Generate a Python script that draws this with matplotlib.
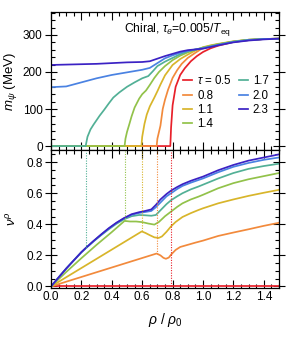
import numpy as np
import matplotlib
matplotlib.use("Agg")
import matplotlib.pyplot as plt
from matplotlib.ticker import MultipleLocator

plt.rcParams['font.family'] = ['Liberation Sans', 'DejaVu Sans']
plt.rcParams['mathtext.fontset'] = 'custom'
plt.rcParams['mathtext.rm'] = 'Liberation Sans'
plt.rcParams['mathtext.it'] = 'Liberation Sans:italic'
plt.rcParams['mathtext.bf'] = 'Liberation Sans:bold'

# ---------------- data ----------------
taus = ["0.5", "0.8", "1.1", "1.4", "1.7", "2.0", "2.3"]
colors = ["#e8202a", "#f28a3c", "#d8b52a", "#92c24a", "#52b096", "#4a82e2", "#3b22c4"]

# top panel: m_psi (MeV) vs rho/rho0
m_rho = [
    [0, 0.785, 0.79, 0.80, 0.82, 0.85, 0.88, 0.92, 0.96, 1.0, 1.05, 1.1, 1.2, 1.3, 1.4, 1.5],
    [0, 0.695, 0.70, 0.72, 0.735, 0.75, 0.77, 0.80, 0.83, 0.86, 0.90, 0.95, 1.0, 1.05, 1.1, 1.2, 1.3, 1.4, 1.5],
    [0, 0.595, 0.60, 0.615, 0.63, 0.65, 0.68, 0.70, 0.72, 0.75, 0.8, 0.85, 0.9, 0.95, 1.0, 1.05, 1.1, 1.2, 1.3, 1.4, 1.5],
    [0, 0.484, 0.49, 0.50, 0.516, 0.53, 0.55, 0.58, 0.60, 0.625, 0.65, 0.68, 0.71, 0.75, 0.8, 0.85, 0.9, 0.95, 1.0, 1.1, 1.2, 1.3, 1.4, 1.5],
    [0, 0.228, 0.24, 0.26, 0.28, 0.30, 0.32, 0.35, 0.38, 0.41, 0.45, 0.5, 0.55, 0.6, 0.64, 0.67, 0.70, 0.75, 0.8, 0.85, 0.9, 0.95, 1.0, 1.1, 1.2, 1.3, 1.4, 1.5],
    [0, 0.1, 0.2, 0.3, 0.4, 0.5, 0.6, 0.65, 0.7, 0.75, 0.8, 0.85, 0.9, 1.0, 1.1, 1.2, 1.3, 1.4, 1.5],
    [0, 0.1, 0.2, 0.3, 0.4, 0.5, 0.6, 0.65, 0.7, 0.75, 0.8, 0.85, 0.9, 1.0, 1.1, 1.2, 1.3, 1.4, 1.5],
]
m_val = [
    [0, 0, 50, 110, 160, 192, 210, 229, 243, 254, 264, 271, 281, 286, 289, 290],
    [0, 0, 20, 55, 100, 125, 152, 184, 205, 222, 238, 252, 265, 271, 275, 282, 287, 289, 290],
    [0, 0, 25, 60, 85, 107, 131, 148, 166, 191, 219, 235, 247, 258, 267, 272, 276, 283, 287, 289, 290],
    [0, 0, 20, 38, 60, 80, 104, 128, 140, 150, 165, 184, 200, 216, 232, 244, 253, 260, 266, 275, 282, 287, 289, 290],
    [0, 0, 25, 45, 58, 70, 82, 98, 115, 131, 145, 160, 172, 183, 189, 202, 216, 228, 238, 248, 256, 261, 265, 274, 282, 287, 289, 290],
    [159, 161, 172, 183, 192, 199, 206, 211, 224, 237, 245, 252, 257, 264, 273, 281, 286, 289, 290],
    [219, 220, 221, 222, 224, 226, 227, 229, 236, 243, 249, 255, 259, 263, 272, 280, 285, 288, 290],
]

# bottom panel: nu^rho vs rho/rho0
v_rho = [
    [0, 1.5],
    [0, 0.695, 0.72, 0.74, 0.756, 0.775, 0.79, 0.82, 0.85, 0.9, 0.95, 1.0, 1.1, 1.2, 1.3, 1.4, 1.5],
    [0, 0.597, 0.62, 0.65, 0.68, 0.708, 0.73, 0.76, 0.79, 0.82, 0.865, 0.92, 0.97, 1.0, 1.1, 1.2, 1.3, 1.4, 1.5],
    [0, 0.1, 0.2, 0.3, 0.4, 0.484, 0.52, 0.56, 0.60, 0.64, 0.68, 0.71, 0.75, 0.79, 0.83, 0.865, 0.92, 0.97, 1.0, 1.1, 1.2, 1.3, 1.4, 1.5],
    [0, 0.05, 0.1, 0.15, 0.2, 0.228, 0.28, 0.33, 0.38, 0.43, 0.48, 0.53, 0.58, 0.62, 0.66, 0.69, 0.72, 0.76, 0.79, 0.83, 0.865, 0.92, 0.97, 1.0, 1.1, 1.2, 1.3, 1.4, 1.5],
    [0, 0.05, 0.1, 0.15, 0.2, 0.228, 0.28, 0.33, 0.38, 0.43, 0.48, 0.53, 0.58, 0.62, 0.66, 0.69, 0.72, 0.76, 0.79, 0.83, 0.865, 0.92, 0.97, 1.0, 1.1, 1.2, 1.3, 1.4, 1.5],
    [0, 0.05, 0.1, 0.15, 0.2, 0.228, 0.28, 0.33, 0.38, 0.43, 0.48, 0.53, 0.58, 0.62, 0.66, 0.69, 0.72, 0.76, 0.79, 0.83, 0.865, 0.92, 0.97, 1.0, 1.1, 1.2, 1.3, 1.4, 1.5],
]
v_val = [
    [0, 0],
    [0, 0.212, 0.200, 0.184, 0.178, 0.186, 0.205, 0.235, 0.254, 0.268, 0.282, 0.295, 0.325, 0.347, 0.368, 0.390, 0.410],
    [0, 0.354, 0.345, 0.330, 0.316, 0.312, 0.322, 0.352, 0.387, 0.415, 0.447, 0.472, 0.492, 0.503, 0.535, 0.560, 0.583, 0.603, 0.622],
    [0, 0.093, 0.182, 0.268, 0.350, 0.422, 0.418, 0.418, 0.414, 0.405, 0.398, 0.415, 0.452, 0.482, 0.512, 0.535, 0.560, 0.578, 0.590, 0.632, 0.665, 0.690, 0.710, 0.730],
    [0, 0.058, 0.115, 0.168, 0.220, 0.245, 0.290, 0.330, 0.368, 0.403, 0.432, 0.452, 0.460, 0.458, 0.455, 0.460, 0.490, 0.530, 0.555, 0.580, 0.600, 0.625, 0.643, 0.655, 0.695, 0.730, 0.757, 0.775, 0.790],
    [0, 0.058, 0.115, 0.168, 0.220, 0.246, 0.292, 0.333, 0.372, 0.408, 0.438, 0.461, 0.473, 0.479, 0.486, 0.510, 0.540, 0.580, 0.600, 0.627, 0.647, 0.668, 0.685, 0.695, 0.735, 0.770, 0.795, 0.815, 0.830],
    [0, 0.058, 0.115, 0.168, 0.221, 0.247, 0.293, 0.335, 0.375, 0.410, 0.440, 0.465, 0.478, 0.486, 0.496, 0.525, 0.560, 0.595, 0.617, 0.640, 0.658, 0.680, 0.697, 0.707, 0.748, 0.782, 0.810, 0.830, 0.850],
]

# critical densities (onset of mass) for tau = 0.5 ... 1.7
rho_c = [0.788, 0.695, 0.597, 0.484, 0.228]

# ---------------- figure ----------------
fig = plt.figure(figsize=(2.91, 3.37), dpi=100)
L, R = 51 / 291, 279 / 291
y_top, y_mid, y_bot = 1 - 12 / 337, 1 - 150.5 / 337, 1 - 288 / 337
ax1 = fig.add_axes([L, y_mid, R - L, y_top - y_mid])
ax2 = fig.add_axes([L, y_bot, R - L, y_mid - y_bot], sharex=ax1)

lw = 1.25
for i in range(len(taus)):
    ax1.plot(m_rho[i], m_val[i], color=colors[i], lw=lw,
             label=(r"$\tau$ = " + taus[i]) if i == 0 else taus[i])
for i in range(len(taus)):
    ax2.plot(v_rho[i], v_val[i], color=colors[i], lw=lw)
for i, rc in enumerate(rho_c):
    y0 = np.interp(rc, v_rho[i], v_val[i])
    ax2.plot([rc, rc], [y0, 0.875], color=colors[i], lw=0.8, ls=(0, (1, 1.3)))

ax1.set_xlim(0, 1.5)
ax1.set_ylim(-12, 362)
ax2.set_ylim(-0.01, 0.875)

for ax in (ax1, ax2):
    ax.xaxis.set_major_locator(MultipleLocator(0.2))
    ax.xaxis.set_minor_locator(MultipleLocator(0.05))
    ax.tick_params(which='both', direction='in', top=True, right=True, labelsize=8.5,
                   width=0.8, pad=2)
    ax.tick_params(axis='x', which='major', length=6)
    ax.tick_params(axis='x', which='minor', length=3)
    ax.tick_params(axis='y', which='major', length=8, direction='inout')
    ax.tick_params(axis='y', which='minor', length=3)
    for s in ax.spines.values():
        s.set_linewidth(0.9)

ax1.yaxis.set_major_locator(MultipleLocator(100))
ax1.yaxis.set_minor_locator(MultipleLocator(20))
ax2.yaxis.set_major_locator(MultipleLocator(0.2))
ax2.yaxis.set_minor_locator(MultipleLocator(0.05))
ax2.yaxis.set_major_formatter(matplotlib.ticker.FormatStrFormatter('%.1f'))
ax2.xaxis.set_major_formatter(matplotlib.ticker.FormatStrFormatter('%.1f'))
ax1.tick_params(labelbottom=False)

ax1.set_ylabel(r"$m_\psi$ (MeV)", fontsize=9.5)
ax2.set_ylabel(r"$\nu^\rho$", fontsize=9.5)
ax2.set_xlabel(r"$\rho\ /\ \rho_0$", fontsize=10, labelpad=6)
ax1.yaxis.set_label_coords(-0.14, 0.5)
ax2.yaxis.set_label_coords(-0.14, 0.5)

ax1.text(0.557, 0.877, r"Chiral, $\tau_\theta$=0.005/$T_{\rm eq}$", transform=ax1.transAxes,
         ha='center', va='center', fontsize=8.7)

ax1.legend(loc='upper left', bbox_to_anchor=(0.58, 0.55), ncol=2, frameon=False,
           fontsize=8.3, handlelength=0.8, handletextpad=0.4, columnspacing=0.6,
           labelspacing=0.2, borderpad=0, borderaxespad=0)

fig.savefig("out.png", dpi=100)
